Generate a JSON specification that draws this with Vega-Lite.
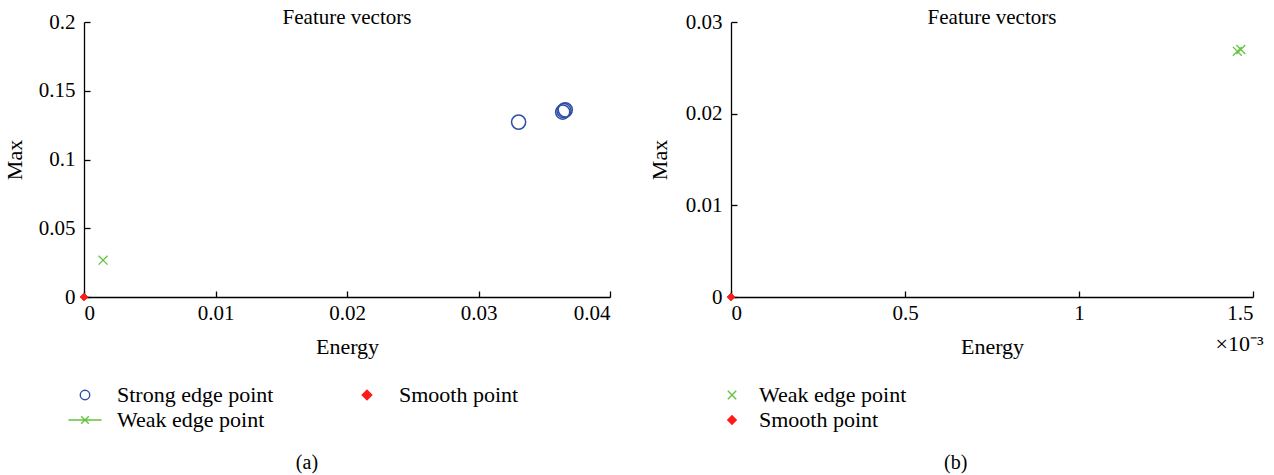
{
  "$schema": "https://vega.github.io/schema/vega-lite/v6.json",
  "background": "white",
  "padding": {"left": 3, "top": 7, "right": 5, "bottom": 2},
  "config": {
    "font": "Liberation Serif",
    "view": {"stroke": null},
    "axis": {
      "grid": false,
      "domainColor": "#000000",
      "tickColor": "#000000",
      "labelColor": "#000000",
      "titleColor": "#000000",
      "labelFont": "Liberation Serif",
      "titleFont": "Liberation Serif",
      "labelFontSize": 21,
      "titleFontSize": 22,
      "titleFontWeight": "normal",
      "tickSize": -6,
      "domainWidth": 1.3,
      "tickWidth": 1.3,
      "labelPadding": 15
    },
    "axisX": {"labelPadding": 11, "titlePadding": 13},
    "axisY": {"titlePadding": 12},
    "legend": {
      "labelFont": "Liberation Serif",
      "labelFontSize": 22,
      "labelColor": "#000000",
      "symbolSize": 90,
      "symbolStrokeWidth": 1.4,
      "rowPadding": 3
    },
    "title": {"font": "Liberation Serif", "fontSize": 21, "fontWeight": "normal", "color": "#000000"},
    "concat": {"spacing": 37}
  },
  "resolve": {
    "scale": {"shape": "independent", "stroke": "independent", "fill": "independent"},
    "legend": {"shape": "independent", "stroke": "independent", "fill": "independent"}
  },
  "datasets": {
    "a": [
      {"energy": 0.03305, "max": 0.1272, "type": "Strong edge point"},
      {"energy": 0.03640, "max": 0.1345, "type": "Strong edge point"},
      {"energy": 0.03650, "max": 0.1355, "type": "Strong edge point"},
      {"energy": 0.03660, "max": 0.1361, "type": "Strong edge point"},
      {"energy": 0.00145, "max": 0.0268, "type": "Weak edge point"},
      {"energy": 0, "max": 0, "type": "Smooth point"}
    ],
    "b": [
      {"energy": 0.001455, "max": 0.0268, "type": "Weak edge point"},
      {"energy": 0.001465, "max": 0.0270, "type": "Weak edge point"},
      {"energy": 0, "max": 0, "type": "Smooth point"}
    ]
  },
  "hconcat": [
    {
      "title": {"text": "(a)", "orient": "bottom", "anchor": "middle", "fontSize": 20, "offset": 22},
      "vconcat": [
        {
          "title": {"text": "Feature vectors", "offset": -17},
          "width": 526,
          "height": 275,
          "data": {"name": "a"},
          "layer": [
            {
              "transform": [{"filter": "datum.type === 'Strong edge point'"}],
              "mark": {"type": "point", "size": 200, "strokeWidth": 1.5, "opacity": 1},
              "encoding": {
                "x": {"field": "energy", "type": "quantitative", "scale": {"domain": [0, 0.04], "nice": false}, "axis": {"title": "Energy", "values": [0, 0.01, 0.02, 0.03, 0.04], "format": "~g"}},
                "y": {"field": "max", "type": "quantitative", "scale": {"domain": [0, 0.2], "nice": false}, "axis": {"title": "Max", "values": [0, 0.05, 0.1, 0.15, 0.2], "format": "~g"}},
                "shape": {"field": "type", "type": "nominal", "scale": {"domain": ["Strong edge point", "Weak edge point", "Smooth point"], "range": ["circle", "M-3.5,0H3.5M-0.8,-0.8L0.8,0.8M-0.8,0.8L0.8,-0.8", "diamond"]}, "legend": {"orient": "none", "legendX": -10, "legendY": 362, "columns": 2, "columnPadding": 82, "labelOffset": 21, "symbolSize": 90, "title": null}},
                "stroke": {"field": "type", "type": "nominal", "scale": {"domain": ["Strong edge point", "Weak edge point", "Smooth point"], "range": ["#2f4fa6", "#62c440", "#ff1a1a"]}, "legend": {"orient": "none", "legendX": -10, "legendY": 362, "columns": 2, "columnPadding": 82, "labelOffset": 21, "symbolSize": 90, "title": null}},
                "fill": {"field": "type", "type": "nominal", "scale": {"domain": ["Strong edge point", "Weak edge point", "Smooth point"], "range": ["transparent", "transparent", "#ff1a1a"]}, "legend": {"orient": "none", "legendX": -10, "legendY": 362, "columns": 2, "columnPadding": 82, "labelOffset": 21, "symbolSize": 90, "title": null}}
              }
            },
            {
              "transform": [{"filter": "datum.type === 'Weak edge point'"}],
              "mark": {"type": "point", "shape": "M-1,-1L1,1M-1,1L1,-1", "size": 80, "strokeWidth": 1.3, "opacity": 1},
              "encoding": {
                "x": {"field": "energy", "type": "quantitative"},
                "y": {"field": "max", "type": "quantitative"},
                "stroke": {"field": "type", "type": "nominal"},
                "fill": {"field": "type", "type": "nominal"}
              }
            },
            {
              "transform": [{"filter": "datum.type === 'Smooth point'"}],
              "mark": {"type": "point", "size": 60, "strokeWidth": 1, "opacity": 1, "clip": false},
              "encoding": {
                "x": {"field": "energy", "type": "quantitative"},
                "y": {"field": "max", "type": "quantitative"},
                "shape": {"field": "type", "type": "nominal"},
                "stroke": {"field": "type", "type": "nominal"},
                "fill": {"field": "type", "type": "nominal"}
              }
            }
          ]
        }
      ]
    },
    {
      "title": {"text": "(b)", "orient": "bottom", "anchor": "middle", "fontSize": 20, "offset": 22},
      "vconcat": [
        {
          "title": {"text": "Feature vectors", "offset": -17},
          "width": 522,
          "height": 275,
          "data": {"name": "b"},
          "resolve": {"axis": {"x": "independent"}},
          "layer": [
            {
              "transform": [{"filter": "datum.type === 'Weak edge point'"}],
              "mark": {"type": "point", "size": 80, "strokeWidth": 1.3, "opacity": 1},
              "encoding": {
                "x": {"field": "energy", "type": "quantitative", "scale": {"domain": [0, 0.0015], "nice": false}, "axis": {"title": "Energy", "values": [0, 0.0005, 0.001, 0.0015], "labelExpr": "format(datum.value * 1000, '~g')"}},
                "y": {"field": "max", "type": "quantitative", "scale": {"domain": [0, 0.03], "nice": false}, "axis": {"title": "Max", "values": [0, 0.01, 0.02, 0.03], "format": "~g", "titlePadding": 14}},
                "shape": {"field": "type", "type": "nominal", "scale": {"domain": ["Weak edge point", "Smooth point"], "range": ["M-1,-1L1,1M-1,1L1,-1", "diamond"]}, "legend": {"orient": "none", "legendX": -10, "legendY": 362, "labelOffset": 16, "symbolSize": 70, "title": null}},
                "stroke": {"field": "type", "type": "nominal", "scale": {"domain": ["Weak edge point", "Smooth point"], "range": ["#62c440", "#ff1a1a"]}, "legend": {"orient": "none", "legendX": -10, "legendY": 362, "labelOffset": 16, "symbolSize": 70, "title": null}},
                "fill": {"field": "type", "type": "nominal", "scale": {"domain": ["Weak edge point", "Smooth point"], "range": ["transparent", "#ff1a1a"]}, "legend": {"orient": "none", "legendX": -10, "legendY": 362, "labelOffset": 16, "symbolSize": 70, "title": null}}
              }
            },
            {
              "transform": [{"filter": "datum.type === 'Smooth point'"}],
              "mark": {"type": "point", "size": 60, "strokeWidth": 1, "opacity": 1, "clip": false},
              "encoding": {
                "x": {"field": "energy", "type": "quantitative", "axis": {"orient": "bottom", "title": "×10⁻³", "labels": false, "ticks": false, "domain": false, "titleAnchor": "end", "titleAlign": "right", "titleX": 532, "titlePadding": 36}},
                "y": {"field": "max", "type": "quantitative"},
                "shape": {"field": "type", "type": "nominal"},
                "stroke": {"field": "type", "type": "nominal"},
                "fill": {"field": "type", "type": "nominal"}
              }
            }
          ]
        }
      ]
    }
  ]
}
